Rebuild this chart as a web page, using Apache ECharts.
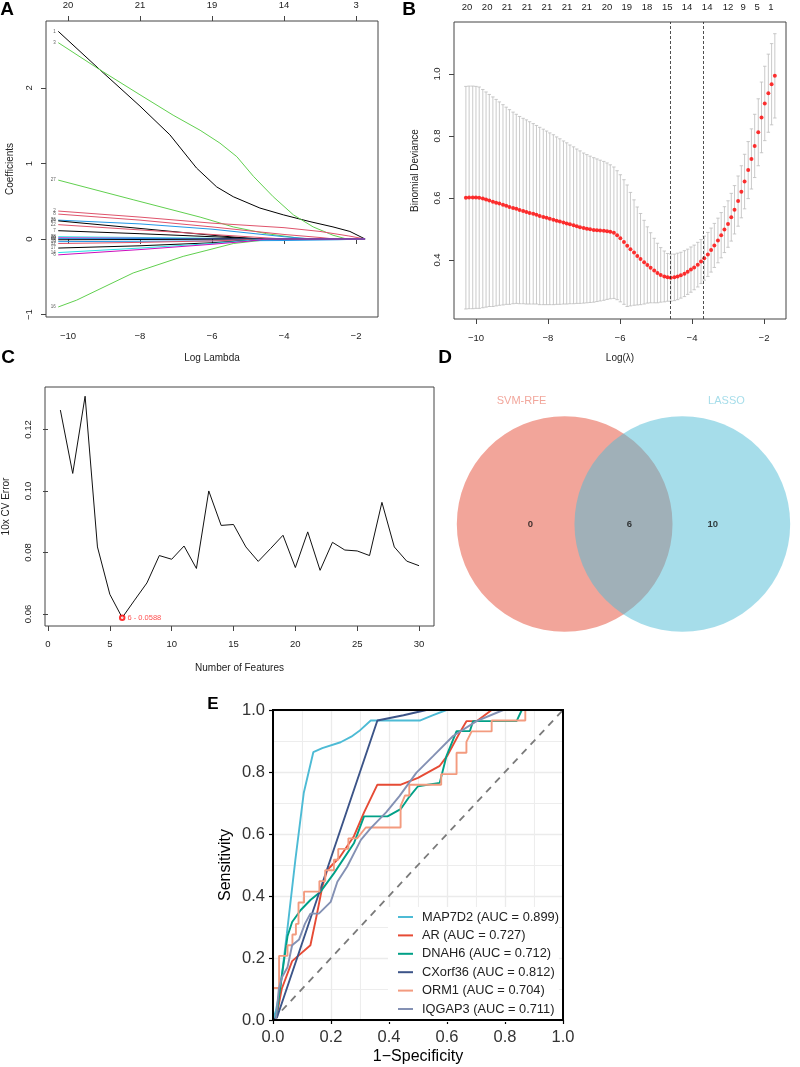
<!DOCTYPE html>
<html><head><meta charset="utf-8">
<script src="https://cdn.jsdelivr.net/npm/echarts@6/dist/echarts.min.js"></script>
<style>html,body{margin:0;padding:0;background:#fff}#c{width:800px;height:1067px}</style>
</head><body><div id="c"></div>
<script>
// ---------- Panel A : LASSO coefficient paths ----------
const topA_vals = [-10, -8, -6, -4, -2];
const topA_labels = ['20', '21', '19', '14', '3'];
const path1  = [[-10.27,2.75],[-9.11,2.24],[-8.0,1.76],[-7.17,1.38],[-6.43,0.94],[-5.87,0.69],[-5.41,0.56],[-4.67,0.41],[-4.02,0.32],[-3.28,0.23],[-2.64,0.16],[-2.17,0.10],[-1.75,0]];
const path3  = [[-10.27,2.60],[-9.11,2.24],[-8.0,1.91],[-7.08,1.64],[-6.33,1.44],[-5.78,1.27],[-5.31,1.09],[-4.85,0.83],[-4.3,0.56],[-3.74,0.32],[-3.19,0.16],[-2.64,0.05],[-2.26,0],[-1.75,0]];
const path27 = [[-10.27,0.78],[-8.19,0.52],[-6.33,0.29],[-5.41,0.16],[-4.48,0.07],[-3.56,0.01],[-3.2,0],[-1.75,0]];
const path16 = [[-10.27,-0.90],[-9.76,-0.81],[-8.19,-0.45],[-6.8,-0.23],[-6.14,-0.15],[-5.41,-0.06],[-4.48,-0.01],[-4.0,0],[-1.75,0]];
const path2  = [[-10.27,0.37],[-8,0.29],[-6,0.21],[-5,0.18],[-4,0.15],[-3,0.10],[-2.2,0.04],[-1.75,0]];
const path8  = [[-10.27,0.33],[-8,0.25],[-6,0.16],[-5,0.11],[-4,0.06],[-3,0.02],[-2.6,0],[-1.75,0]];
const path26 = [[-10.27,0.25],[-8,0.20],[-6,0.13],[-5,0.08],[-4,0.03],[-3.2,0],[-1.75,0]];
const path24 = [[-10.27,0.24],[-8,0.14],[-6,0.05],[-5,0.01],[-4.6,0],[-1.75,0]];
const path22 = [[-10.27,0.19],[-8,0.12],[-6,0.06],[-5,0.03],[-4,0],[-1.75,0]];
const path7  = [[-10.27,0.11],[-8,0.07],[-6,0.03],[-5,0.01],[-4.5,0],[-1.75,0]];
const path28 = [[-10.27,0.03],[-8,0.02],[-6,0.01],[-5,0],[-1.75,0]];
const path20 = [[-10.27,0.015],[-8,0.01],[-6,0.005],[-5,0],[-1.75,0]];
const path10 = [[-10.27,0.005],[-7,0.004],[-5,0],[-1.75,0]];
const path4  = [[-10.27,-0.01],[-7,-0.005],[-5.5,0],[-1.75,0]];
const path19 = [[-10.27,-0.035],[-8,-0.03],[-6,-0.025],[-4,-0.02],[-2.5,-0.01],[-1.75,0]];
const path12 = [[-10.27,-0.06],[-8,-0.045],[-6,-0.025],[-5,-0.01],[-4.5,0],[-1.75,0]];
const path17 = [[-10.27,-0.12],[-8,-0.09],[-6,-0.05],[-5,-0.02],[-4.5,0],[-1.75,0]];
const path14 = [[-10.27,-0.18],[-8,-0.12],[-6,-0.06],[-5,-0.02],[-4.5,0],[-1.75,0]];
const path6  = [[-10.27,-0.21],[-8,-0.14],[-6,-0.07],[-5,-0.03],[-4.5,0],[-1.75,0]];
const pathIds = ['1','3','27','16','2','8','26','24','22','7','28','20','10','4','19','12','17','14','6'];
const pathData = [path1,path3,path27,path16,path2,path8,path26,path24,path22,path7,path28,path20,path10,path4,path19,path12,path17,path14,path6];
const pathColors = ['#000000','#61D04F','#61D04F','#61D04F','#DF536B','#DF536B','#2297E6','#000000','#DF536B','#000000','#28E2E5','#CD0BBC','#2297E6','#000000','#2297E6','#DF536B','#000000','#28E2E5','#CD0BBC'];

// ---------- Panel B : cv.glmnet ----------
const topB_pos = [-10.25,-9.69,-9.14,-8.58,-8.03,-7.47,-6.92,-6.36,-5.81,-5.25,-4.69,-4.14,-3.58,-3.0,-2.58,-2.19,-1.81];
const topB_labels = ['20','20','21','21','21','21','21','20','19','18','15','14','14','12','9','5','1'];
const cvLambda = [-10.28,-10.19,-10.09,-10.00,-9.91,-9.81,-9.72,-9.63,-9.53,-9.44,
-9.35,-9.25,-9.16,-9.07,-8.97,-8.88,-8.79,-8.69,-8.60,-8.51,
-8.41,-8.32,-8.23,-8.13,-8.04,-7.95,-7.85,-7.76,-7.67,-7.57,
-7.48,-7.39,-7.29,-7.20,-7.11,-7.01,-6.92,-6.83,-6.73,-6.64,
-6.55,-6.45,-6.36,-6.27,-6.17,-6.08,-5.99,-5.89,-5.80,-5.71,
-5.61,-5.52,-5.43,-5.33,-5.24,-5.15,-5.05,-4.96,-4.87,-4.77,
-4.68,-4.59,-4.49,-4.40,-4.31,-4.21,-4.12,-4.03,-3.94,-3.84,
-3.75,-3.66,-3.56,-3.47,-3.38,-3.28,-3.19,-3.10,-3.00,-2.91,
-2.82,-2.72,-2.63,-2.54,-2.44,-2.35,-2.26,-2.16,-2.07,-1.98,
-1.88,-1.79,-1.70];
const cvMean = [0.601,0.602,0.602,0.602,0.601,0.598,0.595,0.592,0.588,0.585,
0.582,0.578,0.575,0.571,0.568,0.565,0.561,0.558,0.555,0.552,
0.549,0.546,0.542,0.539,0.536,0.533,0.530,0.527,0.524,0.521,
0.518,0.515,0.512,0.509,0.506,0.503,0.501,0.499,0.497,0.496,
0.495,0.494,0.493,0.491,0.488,0.480,0.470,0.458,0.446,0.435,
0.424,0.413,0.403,0.393,0.384,0.375,0.366,0.358,0.352,0.347,
0.344,0.343,0.344,0.347,0.351,0.356,0.362,0.369,0.376,0.385,
0.395,0.406,0.418,0.432,0.447,0.463,0.480,0.498,0.516,0.538,
0.562,0.590,0.620,0.653,0.690,0.726,0.768,0.812,0.860,0.905,
0.938,0.967,0.994];
const cvSD = [0.359,0.359,0.359,0.358,0.357,0.352,0.347,0.342,0.338,0.333,
0.328,0.323,0.318,0.314,0.309,0.305,0.302,0.299,0.297,0.294,
0.291,0.288,0.286,0.283,0.280,0.277,0.274,0.270,0.267,0.263,
0.260,0.256,0.253,0.249,0.246,0.242,0.239,0.236,0.233,0.230,
0.227,0.224,0.220,0.216,0.212,0.208,0.205,0.201,0.196,0.183,
0.170,0.158,0.147,0.135,0.123,0.113,0.104,0.096,0.088,0.082,
0.077,0.076,0.075,0.075,0.074,0.074,0.073,0.073,0.072,0.072,
0.071,0.071,0.071,0.071,0.071,0.072,0.073,0.074,0.075,0.077,
0.078,0.081,0.084,0.088,0.092,0.097,0.102,0.108,0.114,0.120,
0.126,0.131,0.136];
const lambdaLines = [-4.61, -3.69];

// ---------- Panel C : SVM-RFE ----------
const featureN = [1,2,3,4,5,6,7,8,9,10,11,12,13,14,15,16,17,18,19,20,21,22,23,24,25,26,27,28,29,30];
const cvErr = [0.1263,0.1057,0.1308,0.0818,0.0664,0.0588,0.0645,0.0701,0.0790,0.0778,
0.0821,0.0748,0.1000,0.0888,0.0891,0.0818,0.0771,0.0813,0.0856,0.0751,
0.0867,0.0742,0.0833,0.0808,0.0805,0.0790,0.0963,0.0818,0.0772,0.0757];
const bestPoint = [6, 0.0588];

// ---------- Panel D : Venn ----------
const vennSets = ['SVM-RFE', 'LASSO'];
const vennColors = ['#E64B35', '#4DBBD5'];
const vennCenters = [-0.6, 0.6];
const vennRadius = 1.1;
const vennCounts = ['0', '6', '10'];
const vennCountPos = [-0.95, 0.06, 0.91];
const vennSetLabelPos = [[-1.04, 1.23], [1.05, 1.23]];

// ---------- Panel E : ROC ----------
const rocNames = ['MAP7D2 (AUC = 0.899)','AR (AUC = 0.727)','DNAH6 (AUC = 0.712)','CXorf36 (AUC = 0.812)','ORM1 (AUC = 0.704)','IQGAP3 (AUC = 0.711)'];
const rocColors = ['#4DBBD5','#E64B35','#00A087','#3C5488','#F39B7F','#8491B4'];
const rocMAP7D2 = [[0,0],[0.01,0.03],[0.025,0.1],[0.048,0.28],[0.077,0.516],[0.106,0.732],[0.139,0.864],[0.17,0.877],[0.233,0.896],[0.27,0.914],[0.297,0.932],[0.337,0.966],[0.506,0.966],[0.55,0.983],[0.598,1],[1,1]];
const rocAR = [[0,0],[0.01,0],[0.03,0.1],[0.066,0.19],[0.129,0.241],[0.152,0.344],[0.17,0.43],[0.187,0.484],[0.23,0.525],[0.279,0.593],[0.314,0.67],[0.36,0.759],[0.441,0.759],[0.5,0.781],[0.575,0.82],[0.6,0.851],[0.644,0.927],[0.667,0.964],[0.702,0.964],[0.754,1],[1,1]];
const rocDNAH6 = [[0,0],[0.01,0],[0.03,0.14],[0.05,0.27],[0.066,0.316],[0.095,0.354],[0.129,0.387],[0.164,0.414],[0.21,0.473],[0.279,0.57],[0.314,0.657],[0.395,0.657],[0.44,0.68],[0.47,0.72],[0.5,0.754],[0.575,0.765],[0.598,0.851],[0.633,0.932],[0.679,0.932],[0.69,0.964],[0.84,0.964],[0.858,1],[1,1]];
const rocCXorf36 = [[0,0],[0.014,0.009],[0.36,0.966],[0.45,0.983],[0.529,1],[1,1]];
const rocORM1 = [[0,0],[0,0.103],[0.021,0.103],[0.021,0.207],[0.05,0.207],[0.05,0.241],[0.067,0.241],[0.067,0.276],[0.079,0.276],[0.079,0.31],[0.088,0.31],[0.088,0.379],[0.107,0.379],[0.107,0.414],[0.16,0.414],[0.16,0.448],[0.18,0.448],[0.18,0.483],[0.21,0.483],[0.21,0.517],[0.225,0.517],[0.225,0.552],[0.26,0.552],[0.26,0.586],[0.29,0.586],[0.32,0.621],[0.44,0.621],[0.44,0.69],[0.455,0.724],[0.47,0.724],[0.47,0.759],[0.58,0.759],[0.58,0.793],[0.633,0.793],[0.633,0.862],[0.667,0.862],[0.667,0.897],[0.685,0.931],[0.754,0.931],[0.754,0.966],[0.87,0.966],[0.87,1],[1,1]];
const rocIQGAP3 = [[0,0],[0.01,0],[0.02,0.1],[0.031,0.138],[0.05,0.17],[0.066,0.241],[0.09,0.26],[0.11,0.31],[0.129,0.343],[0.158,0.343],[0.199,0.381],[0.222,0.446],[0.256,0.495],[0.303,0.581],[0.337,0.619],[0.39,0.67],[0.436,0.722],[0.494,0.797],[0.552,0.851],[0.621,0.916],[0.702,0.964],[0.794,1],[1,1]];
const rocData = [rocMAP7D2, rocAR, rocDNAH6, rocCXorf36, rocORM1, rocIQGAP3];
const diagLine = [[0,0],[1,1]];

// ---------- build ----------
const FONT = 'Liberation Sans, Arial, Helvetica, sans-serif';
const TXT = '#222';
const minus = v => String(v).replace('-', '\u2212');
function nearestLabel(pos, labs, v) {
  let k = 0;
  for (let i = 1; i < pos.length; i++) if (Math.abs(pos[i] - v) < Math.abs(pos[k] - v)) k = i;
  return labs[k];
}
const rGrid = (l, t, w, h, extra) => Object.assign({left: l, top: t, width: w, height: h, show: true, borderColor: '#444', borderWidth: 1, backgroundColor: 'transparent'}, extra || {});
const baseTick = {show: true, inside: false, length: 5, lineStyle: {color: '#444', width: 1}};
const baseLabel = {fontFamily: FONT, fontSize: 9.5, color: TXT};

const series = [];
// Panel A lines
pathData.forEach((p, i) => {
  series.push({type: 'line', xAxisIndex: 0, yAxisIndex: 0, data: p, symbol: 'none', smooth: false,
    lineStyle: {color: pathColors[i], width: 1}, z: 2, silent: true});
});
series.push({type: 'scatter', xAxisIndex: 0, yAxisIndex: 0, symbolSize: 1, itemStyle: {color: 'transparent'},
  data: pathData.map((p, i) => ({value: p[0], name: pathIds[i]})),
  label: {show: true, position: 'left', distance: 2, formatter: '{b}', fontSize: 4.5, color: '#333', fontFamily: FONT}, z: 3});

// Panel B error bars and points
series.push({type: 'custom', xAxisIndex: 2, yAxisIndex: 1, z: 2,
  data: cvLambda.map((x, i) => [x, cvMean[i] + cvSD[i], cvMean[i] - cvSD[i]]),
  renderItem: (params, api) => {
    const top = api.coord([api.value(0), api.value(1)]);
    const bot = api.coord([api.value(0), api.value(2)]);
    const w = 1.7, st = {stroke: '#bcbcbc', lineWidth: 0.8};
    return {type: 'group', children: [
      {type: 'line', shape: {x1: top[0], y1: top[1], x2: bot[0], y2: bot[1]}, style: st},
      {type: 'line', shape: {x1: top[0] - w, y1: top[1], x2: top[0] + w, y2: top[1]}, style: st},
      {type: 'line', shape: {x1: bot[0] - w, y1: bot[1], x2: bot[0] + w, y2: bot[1]}, style: st}
    ]};
  }});
series.push({type: 'scatter', xAxisIndex: 2, yAxisIndex: 1, z: 4, symbolSize: 4,
  itemStyle: {color: '#ff0000'}, data: cvLambda.map((x, i) => [x, cvMean[i]]),
  markLine: {silent: true, symbol: 'none', label: {show: false},
    lineStyle: {type: [3, 2], color: '#222', width: 0.8},
    data: lambdaLines.map(v => ({xAxis: v}))}});

// Panel C
series.push({type: 'line', xAxisIndex: 4, yAxisIndex: 2, symbol: 'none', data: featureN.map((n, i) => [n, cvErr[i]]),
  lineStyle: {color: '#111', width: 1}, z: 2});
series.push({type: 'scatter', xAxisIndex: 4, yAxisIndex: 2, symbol: 'emptyCircle', symbolSize: 4.5,
  itemStyle: {color: '#ff0000', borderColor: '#ff0000', borderWidth: 0.8}, data: [bestPoint],
  label: {show: true, position: 'right', distance: 2, formatter: p => p.value[0] + ' - ' + p.value[1],
    fontSize: 7.5, color: '#ff2020', fontFamily: FONT}, z: 3});

// Panel D
series.push({type: 'custom', xAxisIndex: 5, yAxisIndex: 3, z: 2,
  data: vennCenters.map((c, i) => [c, 0, vennRadius, i]),
  renderItem: (params, api) => {
    const c = api.coord([api.value(0), api.value(1)]);
    const r = api.size([api.value(2), 0])[0];
    return {type: 'circle', shape: {cx: c[0], cy: c[1], r: r},
      style: {fill: vennColors[api.value(3)], opacity: 0.5, stroke: 'none'}};
  }});
series.push({type: 'scatter', xAxisIndex: 5, yAxisIndex: 3, symbolSize: 1, itemStyle: {color: 'transparent'}, z: 5,
  data: vennCounts.map((t, i) => ({value: [vennCountPos[i], 0], name: t})),
  label: {show: true, position: 'inside', formatter: '{b}', fontSize: 9.5, fontWeight: 'bold', color: '#111', fontFamily: FONT}});
series.push({type: 'scatter', xAxisIndex: 5, yAxisIndex: 3, symbolSize: 1, itemStyle: {color: 'transparent'}, z: 5,
  data: vennSets.map((t, i) => ({value: vennSetLabelPos[i], name: t,
    label: {color: vennColors[i], opacity: 0.5}})),
  label: {show: true, position: 'inside', formatter: '{b}', fontSize: 11, fontFamily: FONT}});

// Panel E
series.push({type: 'line', xAxisIndex: 6, yAxisIndex: 4, data: diagLine, symbol: 'none',
  lineStyle: {color: '#7a7a7a', width: 1.8, type: [7, 6]}, z: 2, silent: true});
rocData.forEach((d, i) => {
  series.push({type: 'line', name: rocNames[i], xAxisIndex: 6, yAxisIndex: 4, data: d, symbol: 'none',
    lineStyle: {color: rocColors[i], width: 1.9}, itemStyle: {color: rocColors[i]}, z: 3});
});

const option = {
  animation: false,
  backgroundColor: '#fff',
  textStyle: {fontFamily: FONT},
  grid: [
    rGrid(46, 21, 332, 296),
    rGrid(454, 22, 332, 297),
    rGrid(44, 387, 390, 239),
    {left: 447, top: 389, width: 360, height: 270, show: false},
    {left: 273, top: 710, width: 290, height: 310, show: true, borderColor: '#000', borderWidth: 2, z: 10, backgroundColor: 'transparent'}
  ],
  xAxis: [
    {type: 'value', gridIndex: 0, min: -10.61, max: -1.39, axisLine: {show: false}, splitLine: {show: false},
      axisTick: Object.assign({customValues: topA_vals}, baseTick),
      axisLabel: Object.assign({customValues: topA_vals, margin: 14, formatter: minus}, baseLabel),
      name: 'Log Lambda', nameLocation: 'middle', nameGap: 36, nameTextStyle: {fontSize: 10, color: TXT, fontFamily: FONT}},
    {type: 'value', gridIndex: 0, position: 'top', min: -10.61, max: -1.39, axisLine: {show: false}, splitLine: {show: false},
      axisTick: Object.assign({customValues: topA_vals}, baseTick),
      axisLabel: Object.assign({customValues: topA_vals, margin: 11, formatter: v => nearestLabel(topA_vals, topA_labels, v)}, baseLabel)},
    {type: 'value', gridIndex: 1, min: -10.61, max: -1.39, axisLine: {show: false}, splitLine: {show: false},
      axisTick: Object.assign({customValues: topA_vals}, baseTick),
      axisLabel: Object.assign({customValues: topA_vals, margin: 14, formatter: minus}, baseLabel),
      name: 'Log(\u03bb)', nameLocation: 'middle', nameGap: 34, nameTextStyle: {fontSize: 10, color: TXT, fontFamily: FONT}},
    {type: 'value', gridIndex: 1, position: 'top', min: -10.61, max: -1.39, axisLine: {show: false}, splitLine: {show: false},
      axisTick: {show: false},
      axisLabel: Object.assign({customValues: topB_pos, margin: 10, formatter: v => nearestLabel(topB_pos, topB_labels, v)}, baseLabel)},
    {type: 'value', gridIndex: 2, min: -0.242, max: 31.21, axisLine: {show: false}, splitLine: {show: false},
      axisTick: Object.assign({customValues: [0, 5, 10, 15, 20, 25, 30]}, baseTick),
      axisLabel: Object.assign({customValues: [0, 5, 10, 15, 20, 25, 30], margin: 13}, baseLabel),
      name: 'Number of Features', nameLocation: 'middle', nameGap: 37, nameTextStyle: {fontSize: 10, color: TXT, fontFamily: FONT}},
    {type: 'value', gridIndex: 3, min: -1.8, max: 1.8, show: false},
    {type: 'value', gridIndex: 4, min: 0, max: 1, interval: 0.2, axisLine: {show: false},
      axisTick: {show: true, length: 4, lineStyle: {color: '#000', width: 1.2}},
      axisLabel: {formatter: v => v.toFixed(1), fontSize: 16.5, color: '#333', margin: 9, fontFamily: FONT},
      splitLine: {show: true, lineStyle: {color: '#EBEBEB', width: 1.3}},
      minorTick: {show: false, splitNumber: 2},
      minorSplitLine: {show: true, lineStyle: {color: '#EDEDED', width: 1.1}},
      name: '1\u2212Specificity', nameLocation: 'middle', nameGap: 29, nameTextStyle: {fontSize: 16, color: '#000', fontFamily: FONT}}
  ],
  yAxis: [
    {type: 'value', gridIndex: 0, min: -1.033, max: 2.887, axisLine: {show: false}, splitLine: {show: false},
      axisTick: Object.assign({customValues: [-1, 0, 1, 2]}, baseTick),
      axisLabel: Object.assign({customValues: [-1, 0, 1, 2], rotate: 90, margin: 12, formatter: minus}, baseLabel),
      name: 'Coefficients', nameLocation: 'middle', nameRotate: 90, nameGap: 31, nameTextStyle: {fontSize: 10, color: TXT, fontFamily: FONT}},
    {type: 'value', gridIndex: 1, min: 0.2097, max: 1.1677, axisLine: {show: false}, splitLine: {show: false},
      axisTick: Object.assign({customValues: [0.4, 0.6, 0.8, 1.0]}, baseTick),
      axisLabel: Object.assign({customValues: [0.4, 0.6, 0.8, 1.0], rotate: 90, margin: 12, formatter: v => v.toFixed(1)}, baseLabel),
      name: 'Binomial Deviance', nameLocation: 'middle', nameRotate: 90, nameGap: 34, nameTextStyle: {fontSize: 10, color: TXT, fontFamily: FONT}},
    {type: 'value', gridIndex: 2, min: 0.0561, max: 0.1338, axisLine: {show: false}, splitLine: {show: false},
      axisTick: Object.assign({customValues: [0.06, 0.08, 0.10, 0.12]}, baseTick),
      axisLabel: Object.assign({customValues: [0.06, 0.08, 0.10, 0.12], rotate: 90, margin: 12, formatter: v => v.toFixed(2)}, baseLabel),
      name: '10x CV Error', nameLocation: 'middle', nameRotate: 90, nameGap: 34, nameTextStyle: {fontSize: 10, color: TXT, fontFamily: FONT}},
    {type: 'value', gridIndex: 3, min: -1.35, max: 1.35, show: false},
    {type: 'value', gridIndex: 4, min: 0, max: 1, interval: 0.2, axisLine: {show: false},
      axisTick: {show: true, length: 4, lineStyle: {color: '#000', width: 1.2}},
      axisLabel: {formatter: v => v.toFixed(1), fontSize: 16.5, color: '#333', margin: 8, fontFamily: FONT},
      splitLine: {show: true, lineStyle: {color: '#EBEBEB', width: 1.3}},
      minorTick: {show: false, splitNumber: 2},
      minorSplitLine: {show: true, lineStyle: {color: '#EDEDED', width: 1.1}},
      name: 'Sensitivity', nameLocation: 'middle', nameRotate: 90, nameGap: 39, nameTextStyle: {fontSize: 16, color: '#000', fontFamily: FONT}}
  ],
  legend: {
    data: rocNames, orient: 'vertical', left: 388, top: 907, padding: [3, 0, 6, 10],
    backgroundColor: '#fff', icon: 'rect', itemWidth: 15, itemHeight: 2, itemGap: 4.4,
    textStyle: {fontSize: 12.8, color: '#222', fontFamily: FONT, lineHeight: 14, padding: [0, 0, 0, 4]}, z: 8
  },
  graphic: [
    {type: 'text', style: {text: 'A', x: 7, y: 10, font: 'bold 19px ' + FONT, fill: '#000', textAlign: 'center', textVerticalAlign: 'middle'}},
    {type: 'text', style: {text: 'B', x: 409, y: 10, font: 'bold 19px ' + FONT, fill: '#000', textAlign: 'center', textVerticalAlign: 'middle'}},
    {type: 'text', style: {text: 'C', x: 8, y: 358, font: 'bold 19px ' + FONT, fill: '#000', textAlign: 'center', textVerticalAlign: 'middle'}},
    {type: 'text', style: {text: 'D', x: 445, y: 358, font: 'bold 19px ' + FONT, fill: '#000', textAlign: 'center', textVerticalAlign: 'middle'}},
    {type: 'text', style: {text: 'E', x: 213, y: 704, font: 'bold 17px ' + FONT, fill: '#000', textAlign: 'center', textVerticalAlign: 'middle'}}
  ],
  series: series
};
const chart = echarts.init(document.getElementById('c'), null, {renderer: 'canvas'});
chart.setOption(option);
</script>
</body></html>
